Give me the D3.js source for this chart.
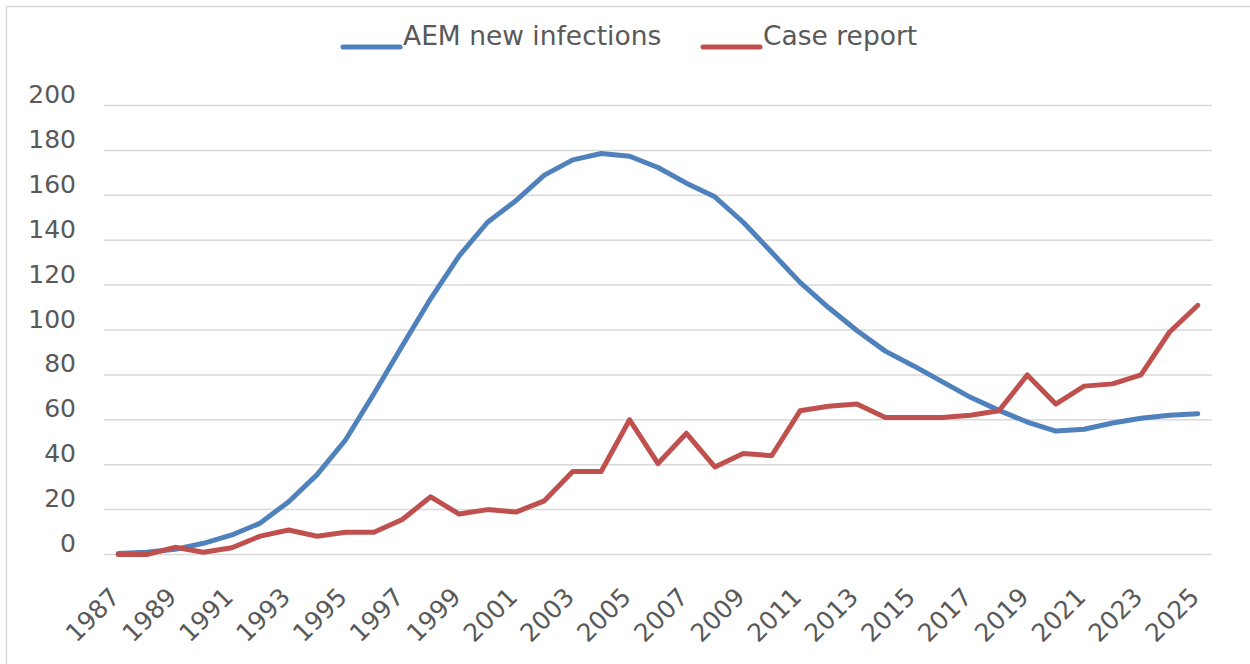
<html>
<head>
  <meta charset="utf-8">
  <title>AEM new infections vs case report</title>
  <style type="text/css">
    body { margin: 0; background: #fff; }
    text { font-family: "DejaVu Sans", sans-serif; fill: #595959; }
    .grid line { stroke: #d9d9d9; stroke-width: 1.5; }
    .line { fill: none; stroke-width: 5; stroke-linejoin: round; stroke-linecap: round; }
  </style>
</head>
<body>
<script src="https://d3js.org/d3.v7.min.js"></script>
<script>
  var years = [1987, 1988, 1989, 1990, 1991, 1992, 1993, 1994, 1995, 1996,
    1997, 1998, 1999, 2000, 2001, 2002, 2003, 2004, 2005, 2006,
    2007, 2008, 2009, 2010, 2011, 2012, 2013, 2014, 2015, 2016,
    2017, 2018, 2019, 2020, 2021, 2022, 2023, 2024, 2025];
  var aemNew = [0.5, 1, 2.3, 5, 8.7, 14, 23.5, 35.6, 51, 71.6,
    93, 114, 133, 148, 157.6, 169, 175.8, 178.6, 177.4, 172.4,
    165.4, 159.3, 148, 134.6, 121.2, 110, 99.8, 90.6, 84, 77,
    70, 64.2, 59, 55, 55.8, 58.6, 60.7, 62, 62.7];
  var caseReport = [0, 0, 3.2, 1, 3, 8.2, 10.9, 8.1, 9.9, 9.9,
    15.6, 25.7, 18, 20, 18.9, 23.9, 37, 37, 60, 40.5,
    54, 39, 45, 44, 64, 66, 67, 61, 61, 61,
    62, 64, 80, 67, 75, 76, 80, 99, 111];
  var yTicks = [0, 20, 40, 60, 80, 100, 120, 140, 160, 180, 200];
  var xTickYears = years.filter(function (d, i) { return i % 2 == 0; });
  var seriesNames = ["AEM new infections", "Case report"];
  var colors = ["#4f81bd", "#c0504d"];

  var width = 1250, height = 664;
  var plotLeft = 104, plotRight = 1212, plotTop = 105.5, plotBottom = 554.5;

  var svg = d3.select("body").append("svg")
    .attr("width", width)
    .attr("height", height);

  // chart border (only top/left visible in the picture)
  svg.append("rect")
    .attr("x", 6.5).attr("y", 6.5)
    .attr("width", 1400).attr("height", 800)
    .attr("fill", "none")
    .attr("stroke", "#d9d9d9")
    .attr("stroke-width", 1.5);

  var xScale = d3.scaleBand()
    .domain(years)
    .range([plotLeft, plotRight])
    .padding(0);

  var yScale = d3.scaleLinear()
    .domain([0, 200])
    .range([plotBottom, plotTop]);

  // gridlines
  svg.append("g")
    .attr("class", "grid")
    .selectAll("line")
    .data(yTicks)
    .enter()
    .append("line")
    .attr("x1", plotLeft).attr("x2", plotRight)
    .attr("y1", function (d) { return yScale(d); })
    .attr("y2", function (d) { return yScale(d); });

  // y axis labels
  var yAxis = d3.axisLeft(yScale).tickValues(yTicks).tickSize(0).tickPadding(0);
  var yg = svg.append("g")
    .attr("transform", "translate(76,0)")
    .call(yAxis);
  yg.select(".domain").remove();
  yg.selectAll("text")
    .attr("font-size", 25)
    .attr("font-family", null)
    .attr("fill", null)
    .attr("dy", -3)
    .attr("x", 0);

  // x axis labels, rotated
  var xAxis = d3.axisBottom(xScale).tickValues(xTickYears).tickSize(0).tickPadding(0);
  var xg = svg.append("g")
    .attr("transform", "translate(0," + plotBottom + ")")
    .call(xAxis);
  xg.select(".domain").remove();
  xg.selectAll(".tick text")
    .attr("font-size", 25)
    .attr("font-family", null)
    .attr("fill", null)
    .attr("y", 0)
    .attr("dy", 0)
    .attr("text-anchor", "end")
    .attr("transform", "translate(3,44) rotate(-45)");

  var line = d3.line()
    .x(function (d, i) { return xScale(years[i]) + xScale.bandwidth() / 2; })
    .y(function (d) { return yScale(d); });

  svg.append("path")
    .datum(aemNew)
    .attr("class", "line")
    .attr("stroke", colors[0])
    .attr("d", line);

  svg.append("path")
    .datum(caseReport)
    .attr("class", "line")
    .attr("stroke", colors[1])
    .attr("d", line);

  // legend
  var legendX = [343, 703];
  var legend = svg.append("g");
  seriesNames.forEach(function (name, i) {
    legend.append("line")
      .attr("x1", legendX[i]).attr("x2", legendX[i] + 57)
      .attr("y1", 47).attr("y2", 47)
      .attr("stroke", colors[i])
      .attr("stroke-width", 5)
      .attr("stroke-linecap", "round");
    legend.append("text")
      .attr("x", legendX[i] + 60)
      .attr("y", 45)
      .attr("font-size", 26.5)
      .text(name);
  });
</script>
</body>
</html>
